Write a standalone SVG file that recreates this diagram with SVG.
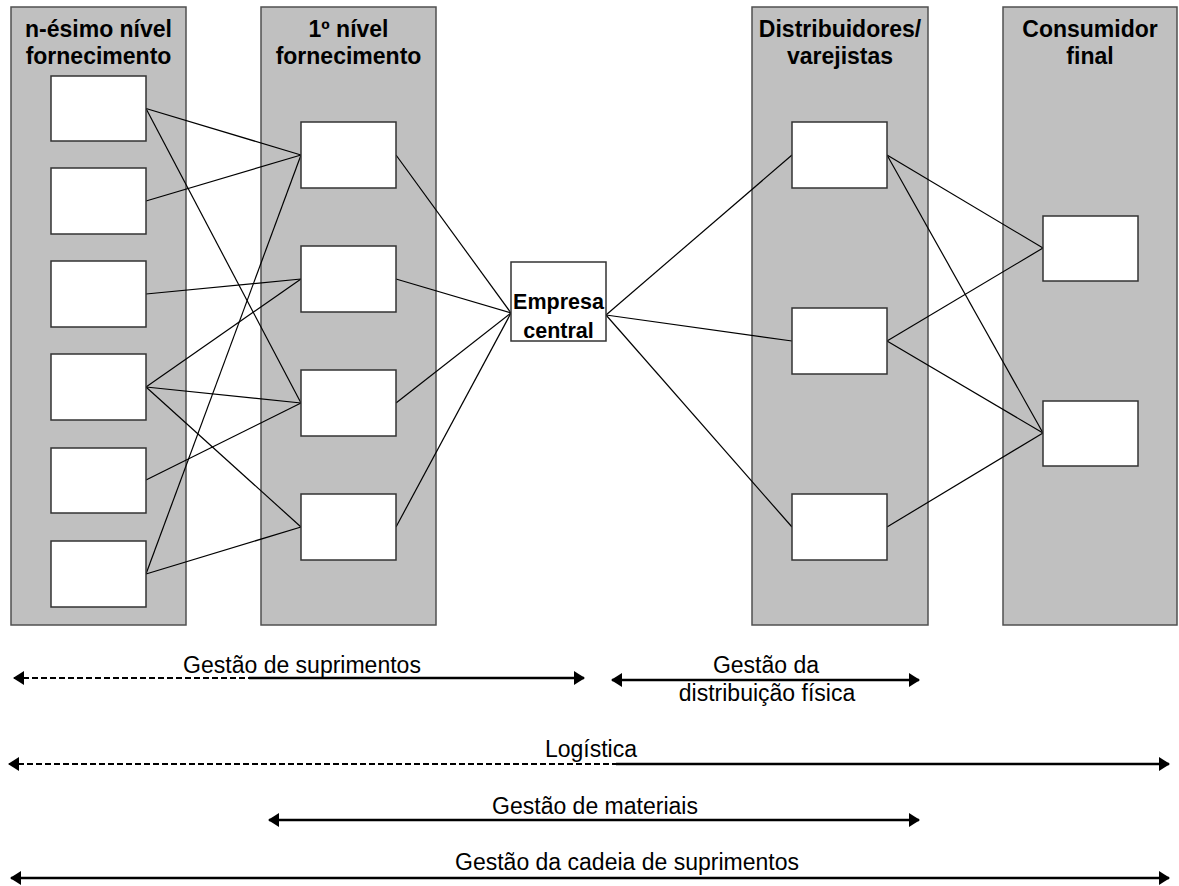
<svg xmlns="http://www.w3.org/2000/svg" width="1179" height="886" viewBox="0 0 1179 886">
<style>
.col{fill:#c0c0c0;stroke:#505050;stroke-width:1.5}
.box{fill:#fff;stroke:#333;stroke-width:1.5}
.hd{font-family:"Liberation Sans",Arial,sans-serif;font-weight:bold;font-size:23px;text-anchor:middle;fill:#000}
.lb{font-family:"Liberation Sans",Arial,sans-serif;font-size:23px;text-anchor:middle;fill:#000}
.cn line{stroke:#000;stroke-width:1.2}
.ar{stroke:#000;stroke-width:2.5;fill:none}
.dash{stroke-width:2;stroke-dasharray:6 3}
</style>
<defs>
<marker id="ah" viewBox="0 0 11 14" refX="10" refY="7" markerWidth="11" markerHeight="14" markerUnits="userSpaceOnUse" orient="auto-start-reverse">
<path d="M0,0 L11,7 L0,14 Z" fill="#000"/>
</marker>
</defs>
<rect width="1179" height="886" fill="#fff"/>
<g id="col1">
<rect class="col" x="11" y="7" width="175" height="618"/>
<text class="hd" x="98.5" y="37">n-ésimo nível</text>
<text class="hd" x="98.5" y="64">fornecimento</text>
</g>
<g id="col2">
<rect class="col" x="261" y="7" width="175" height="618"/>
<text class="hd" x="348.5" y="37">1º nível</text>
<text class="hd" x="348.5" y="64">fornecimento</text>
</g>
<g id="col3">
<rect class="col" x="752" y="7" width="176" height="618"/>
<text class="hd" x="840" y="37">Distribuidores/</text>
<text class="hd" x="840" y="64">varejistas</text>
</g>
<g id="col4">
<rect class="col" x="1003" y="7" width="174" height="618"/>
<text class="hd" x="1090" y="37">Consumidor</text>
<text class="hd" x="1090" y="64">final</text>
</g>
<g class="cn" id="connectors">
<line x1="146" y1="108.5" x2="301" y2="155"/>
<line x1="146" y1="108.5" x2="301" y2="403"/>
<line x1="146" y1="201" x2="301" y2="155"/>
<line x1="146" y1="294" x2="301" y2="279"/>
<line x1="146" y1="387" x2="301" y2="279"/>
<line x1="146" y1="387" x2="301" y2="403"/>
<line x1="146" y1="387" x2="301" y2="527"/>
<line x1="146" y1="480" x2="301" y2="403"/>
<line x1="146" y1="574" x2="301" y2="155"/>
<line x1="146" y1="574" x2="301" y2="527"/>
<line x1="396" y1="155" x2="511" y2="313"/>
<line x1="396" y1="279" x2="511" y2="313"/>
<line x1="396" y1="403" x2="511" y2="313"/>
<line x1="396" y1="527" x2="511" y2="313"/>
<line x1="606" y1="315" x2="792" y2="155"/>
<line x1="606" y1="315" x2="792" y2="341"/>
<line x1="606" y1="315" x2="792" y2="527"/>
<line x1="887" y1="155" x2="1043" y2="248"/>
<line x1="887" y1="155" x2="1043" y2="433"/>
<line x1="887" y1="341" x2="1043" y2="248"/>
<line x1="887" y1="341" x2="1043" y2="433"/>
<line x1="887" y1="527" x2="1043" y2="433"/>
</g>
<g id="n1a"><rect class="box" x="51" y="76" width="95" height="65"/></g>
<g id="n1b"><rect class="box" x="51" y="168" width="95" height="66"/></g>
<g id="n1c"><rect class="box" x="51" y="261" width="95" height="66"/></g>
<g id="n1d"><rect class="box" x="51" y="354" width="95" height="66"/></g>
<g id="n1e"><rect class="box" x="51" y="448" width="95" height="65"/></g>
<g id="n1f"><rect class="box" x="51" y="541" width="95" height="66"/></g>
<g id="n2a"><rect class="box" x="301" y="122" width="95" height="66"/></g>
<g id="n2b"><rect class="box" x="301" y="246" width="95" height="66"/></g>
<g id="n2c"><rect class="box" x="301" y="370" width="95" height="66"/></g>
<g id="n2d"><rect class="box" x="301" y="494" width="95" height="66"/></g>
<g id="empresa">
<rect class="box" x="511" y="262" width="95" height="79"/>
<text class="hd" x="558.5" y="309" style="font-size:21.5px">Empresa</text>
<text class="hd" x="558.5" y="338" style="font-size:21.5px">central</text>
</g>
<g id="n3a"><rect class="box" x="792" y="122" width="95" height="66"/></g>
<g id="n3b"><rect class="box" x="792" y="308" width="95" height="66"/></g>
<g id="n3c"><rect class="box" x="792" y="494" width="95" height="66"/></g>
<g id="n4a"><rect class="box" x="1043" y="216" width="95" height="65"/></g>
<g id="n4b"><rect class="box" x="1043" y="401" width="95" height="65"/></g>
<g id="scopes">
<path class="ar dash" d="M14,678 H249" marker-start="url(#ah)"/>
<path class="ar" d="M249,678 H584" marker-end="url(#ah)"/>
<text class="lb" x="302" y="673">Gestão de suprimentos</text>
<path class="ar" d="M612,680 H919" marker-start="url(#ah)" marker-end="url(#ah)"/>
<text class="lb" x="766" y="673">Gestão da</text>
<text class="lb" x="767" y="701">distribuição física</text>
<path class="ar dash" d="M9,764 H616" marker-start="url(#ah)"/>
<path class="ar" d="M616,764 H1169" marker-end="url(#ah)"/>
<text class="lb" x="591" y="757">Logística</text>
<path class="ar" d="M269,820 H919" marker-start="url(#ah)" marker-end="url(#ah)"/>
<text class="lb" x="595" y="814">Gestão de materiais</text>
<path class="ar" d="M11,878 H1169" marker-start="url(#ah)" marker-end="url(#ah)"/>
<text class="lb" x="627" y="870">Gestão da cadeia de suprimentos</text>
</g>
</svg>
